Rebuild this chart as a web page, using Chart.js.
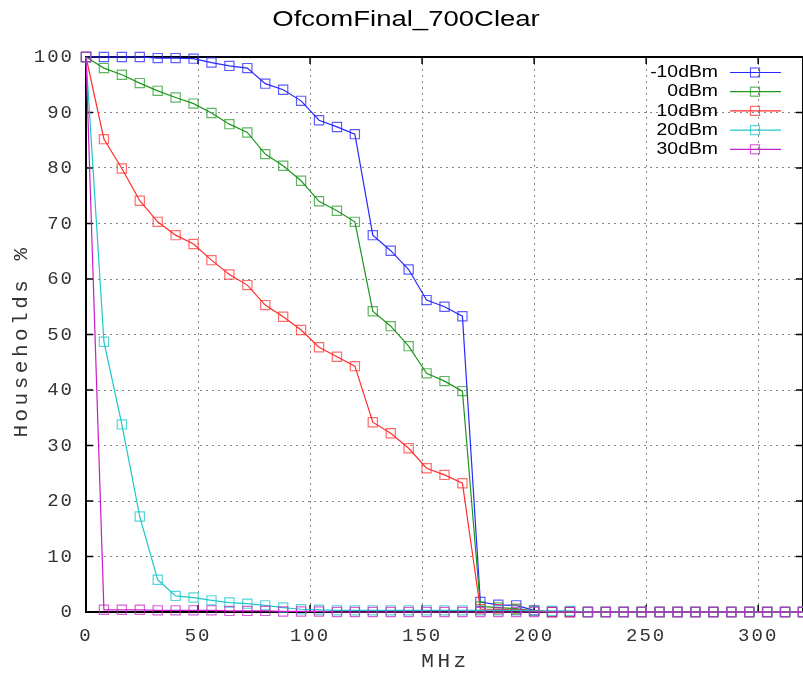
<!DOCTYPE html>
<html>
<head>
<meta charset="utf-8">
<script src="https://cdn.jsdelivr.net/npm/chart.js@4/dist/chart.umd.min.js"></script>
<style>
html,body{margin:0;padding:0;background:#fff;}
#wrap{width:803px;height:673px;position:relative;}
</style>
</head>
<body>
<div id="wrap"><canvas id="c" width="803" height="673"></canvas></div>
<script>
const chartTitle = "OfcomFinal_700Clear";
const xTitle = "MHz";
const yTitle = "Households %";
const freqs = [0,8,16,24,32,40,48,56,64,72,80,88,96,104,112,120,128,136,144,152,160,168,176,184,192,200,208,216,224,232,240,248,256,264,272,280,288,296,304,312,320];
const seriesLabels = ["-10dBm","0dBm","10dBm","20dBm","30dBm"];
const sM10 = [100,100,100,100,99.8,99.8,99.7,99,98.4,98,95.2,94.1,92.1,88.6,87.4,86.1,67.9,65.1,61.7,56.2,55,53.3,1.8,1.3,1.2,0.3,0,0,0,0,0,0,0,0,0,0,0,0,0,0,0];
const s0 = [100,98,96.8,95.3,93.9,92.7,91.6,89.9,87.9,86.4,82.5,80.4,77.7,74,72.3,70.3,54.2,51.5,47.9,43,41.6,39.8,1,0.8,0.6,0.2,0,0,0,0,0,0,0,0,0,0,0,0,0,0,0];
const s10 = [100,85.2,79.9,74.1,70.3,67.9,66.3,63.4,60.8,58.9,55.3,53.2,50.8,47.7,46,44.3,34.2,32.2,29.5,25.9,24.7,23.2,0.5,0.5,0.4,0.2,0,0,0,0,0,0,0,0,0,0,0,0,0,0,0];
const s20 = [100,48.7,33.8,17.2,5.8,2.9,2.6,2.1,1.7,1.5,1.2,0.8,0.5,0.4,0.3,0.3,0.3,0.3,0.3,0.3,0.3,0.3,0.3,0.3,0.3,0.2,0.2,0.2,0,0,0,0,0,0,0,0,0,0,0,0,0];
const s30 = [100,0.4,0.4,0.4,0.3,0.3,0.3,0.3,0.2,0.2,0.2,0.1,0.1,0.1,0,0,0,0,0,0,0,0,0,0,0,0,0,0,0,0,0,0,0,0,0,0,0,0,0,0,0];
const xTicks = [0,50,100,150,200,250,300];
const yTicks = [0,10,20,30,40,50,60,70,80,90,100];

const colors = ["rgb(40,40,255)","rgb(30,150,30)","rgb(255,45,45)","rgb(30,200,200)","rgb(200,30,200)"];
const markerColors = ["rgba(40,40,255,0.75)","rgba(30,150,30,0.7)","rgba(255,45,45,0.7)","rgba(30,200,200,0.75)","rgba(200,30,200,0.7)"];
const allSeries = [sM10,s0,s10,s20,s30];

const datasets = allSeries.map((s,i)=>({
  label: seriesLabels[i],
  data: freqs.map((f,j)=>({x:f,y:s[j]})),
  borderColor: colors[i],
  borderWidth: 1.2,
  pointStyle: 'rect',
  pointRadius: 6.5,
  pointBorderWidth: 1.2,
  pointBorderColor: markerColors[i],
  pointBackgroundColor: 'rgba(0,0,0,0)',
  tension: 0,
  order: 5 - i,
  clip: false
}));

const MONO = "'Liberation Mono', 'DejaVu Sans Mono', monospace";
const SANS = "'Liberation Sans', Arial, sans-serif";

function stretchedText(ctx, text, x, y, sx){
  ctx.save();
  ctx.translate(x, y);
  ctx.scale(sx, 1);
  ctx.fillText(text, 0, 0);
  ctx.restore();
}

const decor = {
  id: 'decor',
  beforeDraw(chart){
    chart.ctx.letterSpacing = '2px';
  },
  beforeDatasetsDraw(chart){
    const ctx = chart.ctx, a = chart.chartArea;
    const xs = chart.scales.x, ys = chart.scales.y;
    ctx.save();
    ctx.strokeStyle = '#000';
    ctx.lineWidth = 2;
    ctx.strokeRect(a.left, a.top, a.right - a.left, a.bottom - a.top);
    ctx.lineWidth = 1.5;
    ctx.beginPath();
    const tl = 7;
    xs.ticks.forEach(t=>{
      const px = xs.getPixelForValue(t.value);
      ctx.moveTo(px, a.bottom); ctx.lineTo(px, a.bottom - tl);
      ctx.moveTo(px, a.top); ctx.lineTo(px, a.top + tl);
    });
    ys.ticks.forEach(t=>{
      const py = ys.getPixelForValue(t.value);
      ctx.moveTo(a.left, py); ctx.lineTo(a.left + tl, py);
      ctx.moveTo(a.right, py); ctx.lineTo(a.right - tl, py);
    });
    ctx.stroke();
    ctx.restore();
  },
  afterDraw(chart){
    const ctx = chart.ctx, a = chart.chartArea;
    ctx.save();
    // title
    ctx.letterSpacing = '0px';
    ctx.fillStyle = '#000';
    ctx.font = "22px " + SANS;
    ctx.textAlign = 'center';
    ctx.textBaseline = 'middle';
    stretchedText(ctx, chartTitle, 406, 20, 1.25);
    // axis titles
    ctx.letterSpacing = '3.5px';
    ctx.fillStyle = '#333';
    ctx.font = "21px " + MONO;
    ctx.fillText(xTitle, (a.left + a.right)/2 + 1, 661);
    ctx.save();
    ctx.translate(21, 341);
    ctx.rotate(-Math.PI/2);
    ctx.fillText(yTitle, 0, 0);
    ctx.restore();
    // legend
    ctx.letterSpacing = '0px';
    ctx.font = "17px " + SANS;
    ctx.textAlign = 'right';
    ctx.textBaseline = 'middle';
    chart.data.datasets.forEach((d,i)=>{
      const y = 72.5 + i*19.2;
      ctx.fillStyle = '#000';
      stretchedText(ctx, d.label, 718, y, 1.14);
      ctx.strokeStyle = d.borderColor;
      ctx.lineWidth = 1.2;
      ctx.beginPath(); ctx.moveTo(730, y); ctx.lineTo(781, y); ctx.stroke();
      ctx.strokeStyle = d.pointBorderColor;
      ctx.strokeRect(750.5, y - 4.5, 9, 9);
    });
    ctx.restore();
  }
};

new Chart(document.getElementById('c'), {
  type: 'line',
  data: { datasets },
  options: {
    responsive: false,
    animation: false,
    layout: { autoPadding: false, padding: { top: 57, left: 0, right: 0, bottom: 0 } },
    plugins: { legend: { display: false }, title: { display: false }, tooltip: { enabled: false } },
    scales: {
      x: {
        type: 'linear', min: 0, max: 320,
        afterBuildTicks(s){ s.ticks = xTicks.map(v=>({value:v})); },
        afterFit(s){ s.height = 61; },
        ticks: { includeBounds: false, stepSize: 50, padding: 13, color: '#333', font: { family: MONO, size: 19 } },
        grid: { color: '#888', lineWidth: 1, drawTicks: false },
        border: { display: false, dash: [2,4] }
      },
      y: {
        type: 'linear', min: 0, max: 100,
        afterBuildTicks(s){ s.ticks = yTicks.map(v=>({value:v})); },
        afterFit(s){ s.width = 86; },
        ticks: { stepSize: 10, padding: 12, color: '#333', font: { family: MONO, size: 19 } },
        grid: { color: '#888', lineWidth: 1, drawTicks: false },
        border: { display: false, dash: [2,4] }
      }
    }
  },
  plugins: [decor]
});
</script>
</body>
</html>
